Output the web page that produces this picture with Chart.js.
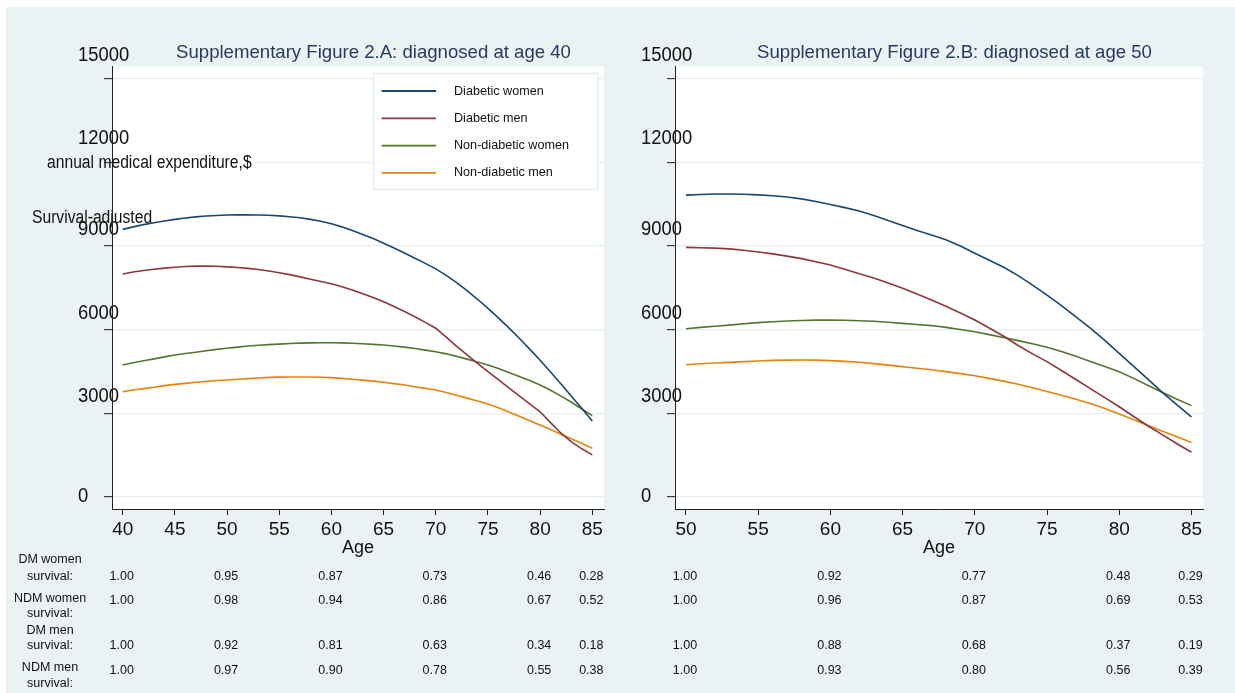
<!DOCTYPE html>
<html>
<head>
<meta charset="utf-8">
<title>Survival-adjusted annual medical expenditure</title>
<script src="https://cdn.jsdelivr.net/npm/chart.js"></script>
<style>
  html, body { margin: 0; padding: 0; background: #ffffff; }
  #frame { position: absolute; left: 6px; top: 7px; width: 1229px; height: 686px; background: #eaf2f3; }
  canvas { position: absolute; top: 0; }
  #panelA { left: 0; }
  #panelB { left: 620px; }
</style>
</head>
<body>
<div id="frame"></div>
<canvas id="panelA" width="620" height="693"></canvas>
<canvas id="panelB" width="615" height="693"></canvas>
<script>
// ---- data: diagnosed at age 40 ----
const agesA = [40,41,42,43,44,45,46,47,48,49,50,51,52,53,54,55,56,57,58,59,60,61,62,63,64,65,66,67,68,69,70,71,72,73,74,75,76,77,78,79,80,81,82,83,84,85];
const dmWomenA = [9600,9690,9770,9840,9900,9960,10010,10050,10080,10100,10115,10120,10120,10115,10105,10085,10055,10015,9960,9890,9800,9690,9560,9420,9270,9100,8930,8750,8560,8380,8180,7950,7690,7400,7090,6760,6420,6060,5690,5300,4900,4480,4050,3610,3170,2720];
const dmMenA = [8000,8070,8125,8170,8210,8240,8265,8280,8285,8275,8255,8230,8200,8160,8105,8045,7975,7895,7810,7730,7650,7540,7420,7290,7150,7000,6830,6650,6460,6260,6050,5730,5400,5090,4790,4490,4200,3910,3620,3330,3050,2660,2280,1970,1720,1500];
const ndmWomenA = [4730,4810,4880,4950,5020,5090,5140,5190,5240,5290,5330,5370,5410,5440,5460,5480,5500,5515,5525,5530,5530,5525,5510,5490,5470,5445,5410,5370,5320,5265,5205,5130,5040,4940,4840,4730,4600,4460,4320,4170,4010,3820,3610,3390,3150,2910];
const ndmMenA = [3770,3830,3880,3930,3990,4035,4070,4110,4140,4170,4190,4215,4240,4265,4285,4295,4300,4300,4298,4290,4275,4250,4220,4185,4150,4108,4060,4010,3950,3890,3830,3740,3640,3540,3440,3330,3190,3040,2890,2730,2575,2410,2240,2080,1910,1740];

// ---- data: diagnosed at age 50 ----
const agesB = [50,51,52,53,54,55,56,57,58,59,60,61,62,63,64,65,66,67,68,69,70,71,72,73,74,75,76,77,78,79,80,81,82,83,84,85];
const dmWomenB = [10830,10855,10870,10870,10860,10840,10805,10760,10695,10600,10490,10380,10260,10100,9920,9740,9560,9400,9230,9000,8740,8490,8240,7940,7600,7240,6860,6460,6050,5610,5150,4680,4210,3740,3300,2870];
const dmMenB = [8955,8940,8925,8900,8850,8790,8720,8640,8550,8440,8320,8170,8010,7850,7670,7485,7280,7060,6840,6600,6345,6060,5760,5430,5130,4850,4530,4210,3880,3560,3230,2880,2540,2220,1900,1595];
const ndmWomenB = [6030,6080,6120,6160,6210,6250,6280,6310,6330,6340,6345,6335,6320,6300,6265,6225,6185,6145,6080,6005,5925,5820,5715,5605,5490,5370,5215,5040,4855,4675,4490,4250,3990,3740,3500,3270];
const ndmMenB = [4740,4775,4800,4825,4850,4873,4895,4905,4910,4905,4885,4860,4830,4780,4725,4670,4615,4560,4490,4420,4345,4250,4150,4040,3910,3775,3640,3500,3350,3170,2970,2765,2560,2350,2150,1950];

// ---- survival shares printed under each panel ----
const survAgesA = [40, 50, 60, 70, 80, 85];
const survDmWomenA = [1.00, 0.95, 0.87, 0.73, 0.46, 0.28];
const survNdmWomenA = [1.00, 0.98, 0.94, 0.86, 0.67, 0.52];
const survDmMenA = [1.00, 0.92, 0.81, 0.63, 0.34, 0.18];
const survNdmMenA = [1.00, 0.97, 0.90, 0.78, 0.55, 0.38];

const survAgesB = [50, 60, 70, 80, 85];
const survDmWomenB = [1.00, 0.92, 0.77, 0.48, 0.29];
const survNdmWomenB = [1.00, 0.96, 0.87, 0.69, 0.53];
const survDmMenB = [1.00, 0.88, 0.68, 0.37, 0.19];
const survNdmMenB = [1.00, 0.93, 0.80, 0.56, 0.39];

// ---- ticks and labels ----
const yTicks = [0, 3000, 6000, 9000, 12000, 15000];
const xTicksA = [40, 45, 50, 55, 60, 65, 70, 75, 80, 85];
const xTicksB = [50, 55, 60, 65, 70, 75, 80, 85];
const seriesNames = ['Diabetic women', 'Diabetic men', 'Non-diabetic women', 'Non-diabetic men'];
const survRowNames = [['DM women', 'survival:'], ['NDM women', 'survival:'], ['DM men', 'survival:'], ['NDM men', 'survival:']];
const yCaption = ['annual medical expenditure,$', 'Survival-adjusted'];

// ---- styling ----
const FONT = '"Liberation Sans", Arial, Helvetica, sans-serif';
const seriesColors = ['#1a476f', '#90353b', '#55752f', '#e8830a'];
const yLabelShift = [0, -16.7, -16.5, -16.6, -24.5, -23.2];
const survRowY = [576.5, 601, 646, 670.5];
const survNameY = [[560, 576.5], [599, 614], [631, 646], [668, 684]];
const captionPos = [[47, 163], [32, 218]];

Chart.defaults.font.family = FONT;
Chart.defaults.color = '#111';

function drawText(ctx, s, x, y, size, color, align, sx) {
  ctx.save();
  ctx.font = size + 'px ' + FONT;
  ctx.fillStyle = color;
  ctx.textBaseline = 'middle';
  ctx.textAlign = align;
  ctx.translate(x, y);
  ctx.scale(sx || 1, 1);
  ctx.fillText(s, 0, 0);
  ctx.restore();
}

function panelDecor(p) {
  return {
    id: 'panelDecor',
    beforeDraw(chart) {
      const { ctx, chartArea: a, scales: { y } } = chart;
      ctx.save();
      ctx.fillStyle = '#ffffff';
      ctx.fillRect(a.left, a.top, a.right - a.left, a.bottom - a.top);
      ctx.restore();
      // value labels of the expenditure axis
      yTicks.forEach((v, i) => {
        drawText(ctx, String(v), a.left - 34, y.getPixelForValue(v) + yLabelShift[i], 20, '#111', 'left', 0.92);
      });
    },
    beforeDatasetsDraw(chart) {
      if (!p.caption) return;
      const { ctx, chartArea: a } = chart;
      // axis caption sits on a white strip that hides the grid line behind it
      ctx.save();
      ctx.font = '18px ' + FONT;
      const w = ctx.measureText(yCaption[0]).width * 0.87;
      ctx.fillStyle = '#ffffff';
      ctx.fillRect(a.left + 1, captionPos[0][1] - 8, captionPos[0][0] + w + 2 - a.left, 16);
      ctx.restore();
      yCaption.forEach((s, i) => drawText(ctx, s, captionPos[i][0], captionPos[i][1], 18, '#111', 'left', 0.87));
      // vertical axis line stays on top of the caption
      ctx.save();
      ctx.strokeStyle = '#222';
      ctx.lineWidth = 1;
      const ax = Math.round(a.left - 0.5) + 0.5;
      ctx.beginPath();
      ctx.moveTo(ax, captionPos[0][1] - 14);
      ctx.lineTo(ax, captionPos[1][1] + 14);
      ctx.stroke();
      ctx.restore();
    },
    afterDraw(chart) {
      const { ctx, chartArea: a, scales: { x } } = chart;
      drawText(ctx, p.title, (a.left + a.right) / 2 + 15.5, 53, 18.6, '#263a63', 'center', 1);

      if (p.legend) {
        const bx = a.right - 230.4, by = a.top + 6.6, bw = 224.2, bh = 116;
        ctx.save();
        ctx.fillStyle = '#ffffff';
        ctx.strokeStyle = '#e2ebee';
        ctx.lineWidth = 1.2;
        ctx.fillRect(bx, by, bw, bh);
        ctx.strokeRect(bx, by, bw, bh);
        chart.data.datasets.forEach((ds, i) => {
          const ry = by + 17.7 + i * 27.3;
          ctx.strokeStyle = ds.borderColor;
          ctx.lineWidth = 1.8;
          ctx.beginPath();
          ctx.moveTo(bx + 8, ry);
          ctx.lineTo(bx + 62.4, ry);
          ctx.stroke();
          drawText(ctx, ds.label, bx + 80.4, ry, 13, '#111', 'left', 0.97);
        });
        ctx.restore();
      }

      // survival shares at selected ages
      p.surv.forEach((row, r) => {
        row.forEach((v, k) => {
          drawText(ctx, v.toFixed(2), x.getPixelForValue(p.survAges[k]) - 1, survRowY[r], 12.5, '#111', 'center', 1);
        });
        if (p.rowNames) {
          drawText(ctx, survRowNames[r][0], 50, survNameY[r][0], 12.5, '#111', 'center', 1);
          drawText(ctx, survRowNames[r][1], 50, survNameY[r][1], 12.5, '#111', 'center', 1);
        }
      });
    }
  };
}

function panelConfig(p) {
  const datasets = [p.dmWomen, p.dmMen, p.ndmWomen, p.ndmMen].map((vals, i) => ({
    label: seriesNames[i],
    data: p.ages.map((a, j) => ({ x: a, y: vals[j] })),
    borderColor: seriesColors[i],
    borderWidth: 1.6,
    pointRadius: 0,
    tension: 0,
    fill: false
  }));
  return {
    type: 'line',
    data: { datasets },
    options: {
      responsive: false,
      animation: false,
      devicePixelRatio: 1,
      layout: { padding: { top: 66.7, right: p.padRight, bottom: 133, left: 0 } },
      plugins: { legend: { display: false }, title: { display: false }, tooltip: { enabled: false } },
      scales: {
        x: {
          type: 'linear', min: p.xMin, max: p.xMax,
          afterBuildTicks: s => { s.ticks = p.xTicks.map(v => ({ value: v })); },
          afterFit: s => { s.height = 51; },
          ticks: { font: { size: 19 }, color: '#111', padding: 3, maxRotation: 0, autoSkip: false },
          grid: { drawOnChartArea: false, drawTicks: true, tickLength: 6, tickColor: '#222', tickWidth: 1 },
          border: { display: true, color: '#222', width: 1 },
          title: { display: true, text: 'Age', font: { size: 18 }, color: '#111', padding: { top: 0, bottom: 1 } }
        },
        y: {
          type: 'linear', min: -442, max: 15442,
          afterBuildTicks: s => { s.ticks = yTicks.map(v => ({ value: v })); },
          afterFit: s => { s.width = p.axisLeft; },
          ticks: { display: false },
          grid: { color: '#e4edf0', lineWidth: 1.3, drawTicks: true, tickLength: 8, tickColor: '#222', tickWidth: 1 },
          border: { display: true, color: '#222', width: 1 }
        }
      }
    },
    plugins: [panelDecor(p)]
  };
}

const specA = {
  title: 'Supplementary Figure 2.A: diagnosed at age 40',
  ages: agesA, dmWomen: dmWomenA, dmMen: dmMenA, ndmWomen: ndmWomenA, ndmMen: ndmMenA,
  xTicks: xTicksA, xMin: 38.975, xMax: 86.12, axisLeft: 112, padRight: 16,
  survAges: survAgesA, surv: [survDmWomenA, survNdmWomenA, survDmMenA, survNdmMenA],
  legend: true, caption: true, rowNames: true
};
const specB = {
  title: 'Supplementary Figure 2.B: diagnosed at age 50',
  ages: agesB, dmWomen: dmWomenB, dmMen: dmMenB, ndmWomen: ndmWomenB, ndmMen: ndmMenB,
  xTicks: xTicksB, xMin: 49.24, xMax: 85.8, axisLeft: 55, padRight: 32,
  survAges: survAgesB, surv: [survDmWomenB, survNdmWomenB, survDmMenB, survNdmMenB],
  legend: false, caption: false, rowNames: false
};

new Chart(document.getElementById('panelA'), panelConfig(specA));
new Chart(document.getElementById('panelB'), panelConfig(specB));
</script>
</body>
</html>
